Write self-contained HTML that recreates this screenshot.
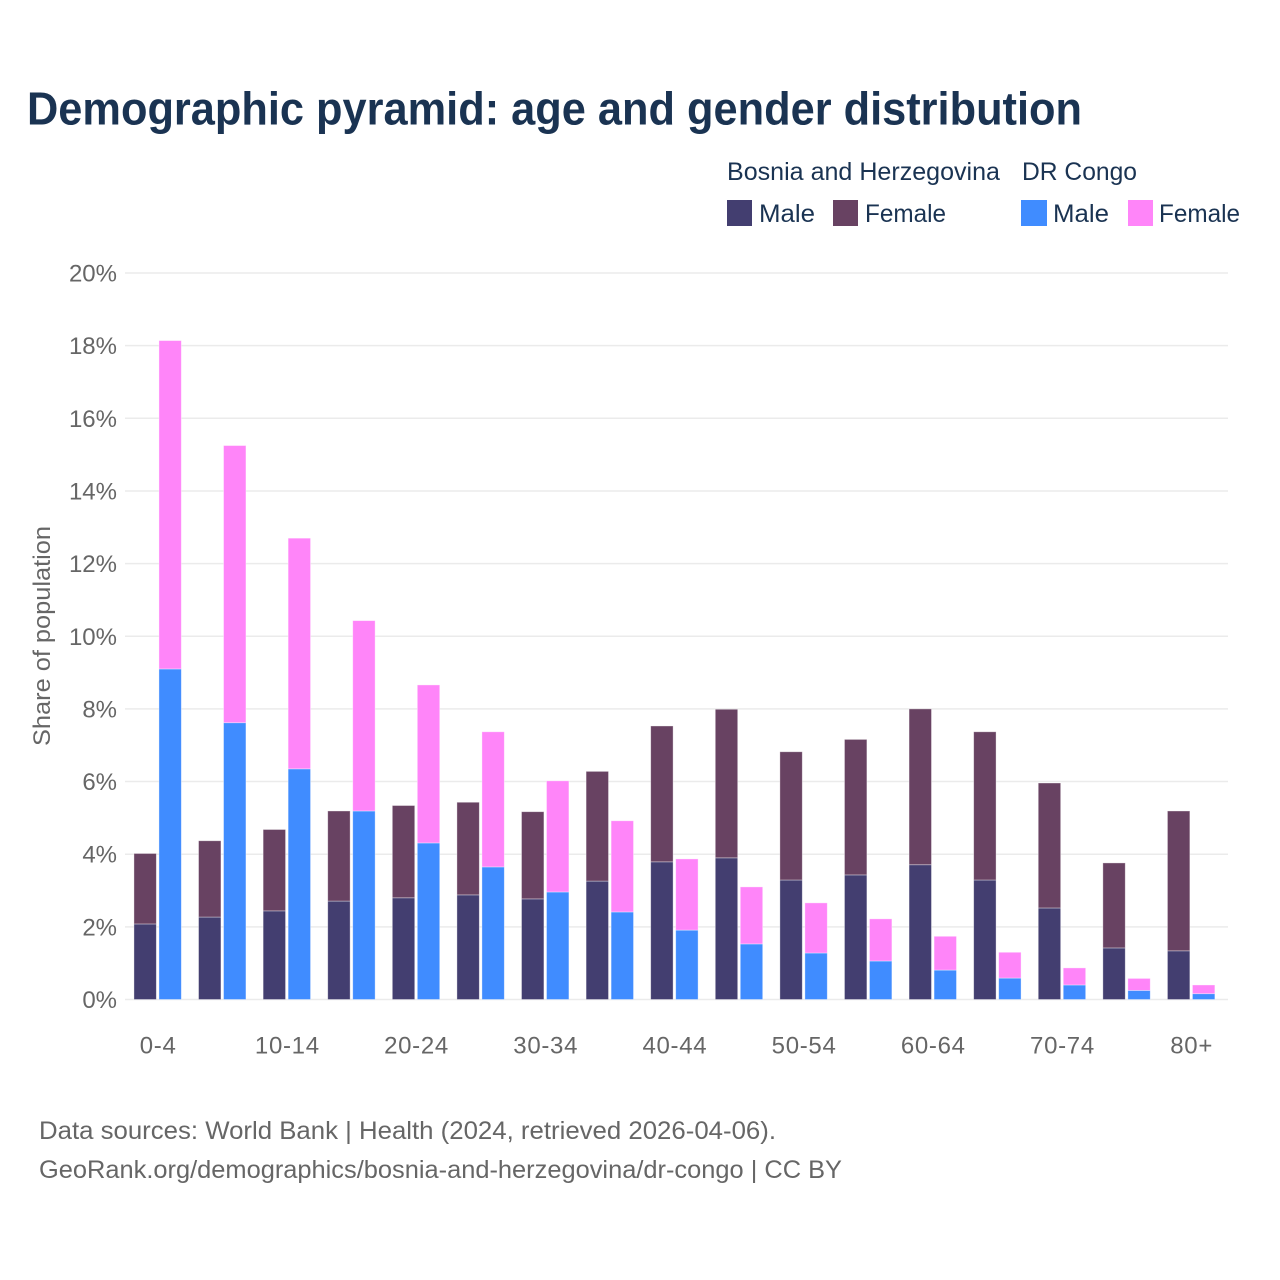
<!DOCTYPE html>
<html lang="en">
<head>
<meta charset="utf-8">
<title>Demographic pyramid: age and gender distribution</title>
<style>
  html, body { margin: 0; padding: 0; background: #ffffff; }
  svg { display: block; font-family: "Liberation Sans", sans-serif; }
</style>
</head>
<body>
<svg id="chart" xmlns="http://www.w3.org/2000/svg" width="1280" height="1280" viewBox="0 0 1280 1280">
  <rect width="1280" height="1280" fill="#ffffff"/>
  <text x="27" y="124.5" font-size="46" font-weight="700" fill="#1a3352" textLength="1055" lengthAdjust="spacingAndGlyphs">Demographic pyramid: age and gender distribution</text>

  <g font-size="25" fill="#1a3352">
    <text x="727" y="180" textLength="273" lengthAdjust="spacingAndGlyphs">Bosnia and Herzegovina</text>
    <text x="1022" y="180" textLength="115" lengthAdjust="spacingAndGlyphs">DR Congo</text>
    <rect x="727" y="200" width="25" height="26" fill="#433e70"/>
    <text x="759" y="222" textLength="56" lengthAdjust="spacingAndGlyphs">Male</text>
    <rect x="833" y="200" width="25" height="26" fill="#684262"/>
    <text x="865" y="222" textLength="81" lengthAdjust="spacingAndGlyphs">Female</text>
    <rect x="1021" y="200" width="26" height="26" fill="#408cff"/>
    <text x="1053" y="222" textLength="56" lengthAdjust="spacingAndGlyphs">Male</text>
    <rect x="1128" y="200" width="25" height="26" fill="#ff85f9"/>
    <text x="1159" y="222" textLength="81" lengthAdjust="spacingAndGlyphs">Female</text>
  </g>

  <g id="grid"></g>
  <g id="yticks"></g>
  <g id="bars"></g>
  <g id="xticks"></g>

  <text transform="translate(50,636) rotate(-90)" text-anchor="middle" font-size="24" fill="#666666" textLength="220" lengthAdjust="spacingAndGlyphs">Share of population</text>

  <text x="39" y="1139" font-size="25" fill="#666666" textLength="737" lengthAdjust="spacingAndGlyphs">Data sources: World Bank | Health (2024, retrieved 2026-04-06).</text>
  <text x="39" y="1178" font-size="25" fill="#666666" textLength="803" lengthAdjust="spacingAndGlyphs">GeoRank.org/demographics/bosnia-and-herzegovina/dr-congo | CC BY</text>
</svg>

<script>
const categories = ['0-4','5-9','10-14','15-19','20-24','25-29','30-34','35-39','40-44','45-49','50-54','55-59','60-64','65-69','70-74','75-79','80+'];
const xTickLabels = ['0-4','10-14','20-24','30-34','40-44','50-54','60-64','70-74','80+'];
const yTickValues = [0,2,4,6,8,10,12,14,16,18,20];
const bosniaMale = [2.08,2.27,2.44,2.71,2.80,2.88,2.77,3.26,3.79,3.90,3.29,3.43,3.71,3.29,2.52,1.42,1.34];
const bosniaFemale = [1.94,2.10,2.24,2.48,2.54,2.55,2.40,3.02,3.74,4.09,3.53,3.73,4.29,4.08,3.44,2.34,3.85];
const congoMale = [9.10,7.62,6.35,5.19,4.31,3.65,2.96,2.41,1.91,1.53,1.28,1.06,0.81,0.59,0.40,0.25,0.16];
const congoFemale = [9.04,7.63,6.35,5.24,4.35,3.72,3.06,2.51,1.96,1.57,1.38,1.16,0.93,0.71,0.47,0.33,0.24];

const NS = 'http://www.w3.org/2000/svg';
const plotLeft = 125, plotRight = 1228, baseY = 999.5, topY = 273, yMax = 20;
const firstCenter = 157.65, lastCenter = 1191.15, barW = 22.4, barGap = 2.6;

function yScale(v) { return baseY - (v / yMax) * (baseY - topY); }
function xCenter(i) { return firstCenter + i * (lastCenter - firstCenter) / (categories.length - 1); }
function make(tag, attrs, parent) {
  const el = document.createElementNS(NS, tag);
  for (const k in attrs) el.setAttribute(k, attrs[k]);
  parent.appendChild(el);
  return el;
}

const gridG = document.getElementById('grid');
const yG = document.getElementById('yticks');
yTickValues.forEach(function (v) {
  const line = make('line', { x1: plotLeft, x2: plotRight, y1: yScale(v), y2: yScale(v), stroke: '#ebebeb', 'stroke-width': 1.5 }, gridG);
  
  
  const t = make('text', { x: 117, y: yScale(v) + 8.5, 'text-anchor': 'end', 'font-size': 24, fill: '#666666' }, yG);
  
  
  t.textContent = v + '%';
});

const barsG = document.getElementById('bars');
function segment(x, bottom, value, fill, name) {
  const r = make('rect', { x: x, y: yScale(bottom + value), width: barW, height: yScale(bottom) - yScale(bottom + value), fill: fill, stroke: '#ffffff', 'stroke-opacity': 0.45, 'stroke-width': 0.8 }, barsG);
  
  
}
categories.forEach(function (cat, i) {
  const c = xCenter(i);
  const xA = c - barW - barGap / 2;
  const xB = c + barGap / 2;
  segment(xA, 0, bosniaMale[i], '#433e70', 'bar-bosnia-male-' + cat);
  segment(xA, bosniaMale[i], bosniaFemale[i], '#684262', 'bar-bosnia-female-' + cat);
  segment(xB, 0, congoMale[i], '#408cff', 'bar-congo-male-' + cat);
  segment(xB, congoMale[i], congoFemale[i], '#ff85f9', 'bar-congo-female-' + cat);
});

const xG = document.getElementById('xticks');
xTickLabels.forEach(function (lab) {
  const i = categories.indexOf(lab);
  const t = make('text', { x: xCenter(i) + 0.5, y: 1053.5, 'text-anchor': 'middle', 'font-size': 24, 'letter-spacing': 0.7, fill: '#666666' }, xG);
  
  
  t.textContent = lab;
});
</script>
</body>
</html>
